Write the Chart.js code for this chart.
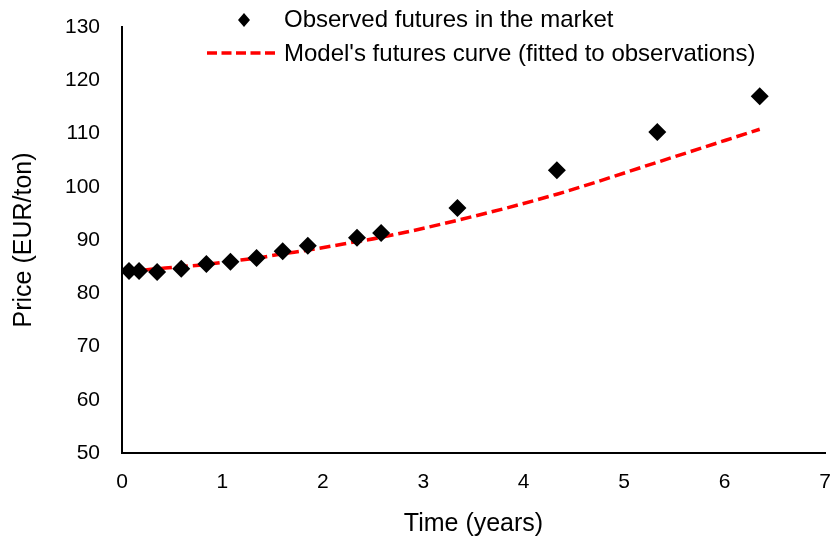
<!DOCTYPE html>
<html>
<head>
<meta charset="utf-8">
<script src="https://cdn.jsdelivr.net/npm/chart.js@4"></script>
<style>
  html, body { margin: 0; padding: 0; background: #fff; }
  #wrap { width: 834px; height: 542px; }
</style>
</head>
<body>
<div id="wrap"><canvas id="grafico" width="834" height="542"></canvas></div>
<script>
// maturities (years)
const tempos = [0.07, 0.17, 0.35, 0.59, 0.84, 1.08, 1.34, 1.60, 1.85, 2.34, 2.58, 3.34, 4.33, 5.33, 6.35];
// observed futures prices (EUR/ton)
const observados = [84.2, 84.2, 84.0, 84.6, 85.5, 85.9, 86.6, 87.9, 88.9, 90.4, 91.3, 96.0, 103.1, 110.3, 117.0];
// model curve at the same maturities
const modelo = [84.2, 84.3, 84.6, 85.0, 85.4, 86.0, 86.6, 87.4, 88.1, 89.7, 90.5, 93.7, 98.6, 104.6, 110.8];

const rotulos = ["Observed futures in the market", "Model's futures curve (fitted to observations)"];
const fonte = "'Liberation Sans', Arial, sans-serif";

// legend drawn inside the plot, like the original
const legendaPlugin = {
  id: "legendaDentro",
  afterDraw(chart) {
    const ctx = chart.ctx;
    ctx.save();
    ctx.font = "24px " + fonte;
    ctx.fillStyle = "#000";
    ctx.textBaseline = "middle";
    ctx.textAlign = "left";

    // row 1: diamond
    ctx.beginPath();
    ctx.moveTo(244, 13);
    ctx.lineTo(250, 20);
    ctx.lineTo(244, 27);
    ctx.lineTo(238, 20);
    ctx.closePath();
    ctx.fill();
    ctx.fillText(chart.data.datasets[0].label, 284, 20);

    // row 2: dashed line
    ctx.strokeStyle = "#ff0000";
    ctx.lineWidth = 3.5;
    ctx.setLineDash([10, 4.5]);
    ctx.beginPath();
    ctx.moveTo(207, 53);
    ctx.lineTo(277, 53);
    ctx.stroke();
    ctx.setLineDash([]);
    ctx.fillText(chart.data.datasets[1].label, 284, 54);
    ctx.restore();
  },
};

function desenhar() {
  const ctx = document.getElementById("grafico").getContext("2d");

  new Chart(ctx, {
    type: "scatter",
    data: {
      datasets: [
        {
          label: rotulos[0],
          data: tempos.map((t, i) => ({ x: t, y: observados[i] })),
          pointStyle: "rectRot",
          pointRadius: 9,
          pointHoverRadius: 9,
          backgroundColor: "#000",
          borderColor: "#000",
          borderWidth: 0,
          showLine: false,
        },
        {
          label: rotulos[1],
          data: tempos.map((t, i) => ({ x: t, y: modelo[i] })),
          showLine: true,
          borderColor: "#ff0000",
          borderWidth: 3.5,
          borderDash: [11, 5],
          pointRadius: 0,
          cubicInterpolationMode: "monotone",
          fill: false,
        },
      ],
    },
    options: {
      responsive: false,
      animation: false,
      layout: { padding: { top: 27, right: 8, bottom: 0, left: 0 } },
      plugins: {
        legend: { display: false },
        tooltip: { enabled: false },
      },
      scales: {
        x: {
          type: "linear",
          min: 0,
          max: 7,
          ticks: { stepSize: 1, color: "#000", font: { family: fonte, size: 21 }, padding: 17, maxRotation: 0 },
          grid: { display: false, drawTicks: false },
          border: { color: "#000", width: 2 },
          title: { display: true, text: "Time (years)", color: "#000", font: { family: fonte, size: 25 }, padding: { top: 0, bottom: 3 } },
          afterFit(scale) {
            scale.height = 89;
            scale.paddingLeft = 0;
            scale.paddingRight = 0;
          },
        },
        y: {
          min: 50,
          max: 130,
          ticks: { stepSize: 10, color: "#000", font: { family: fonte, size: 21 }, padding: 22 },
          grid: { display: false, drawTicks: false },
          border: { color: "#000", width: 2 },
          title: { display: true, text: "Price (EUR/ton)", color: "#000", font: { family: fonte, size: 25 }, padding: { top: 9, bottom: 0 } },
          afterFit(scale) {
            scale.width = 122;
            scale.paddingTop = 0;
            scale.paddingBottom = 0;
          },
        },
      },
    },
    plugins: [legendaPlugin],
  });
}

document.addEventListener("DOMContentLoaded", desenhar);
</script>
</body>
</html>
